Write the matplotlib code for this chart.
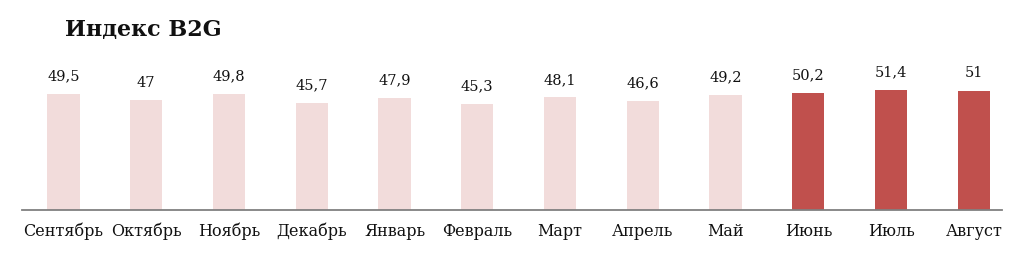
import matplotlib
matplotlib.use("Agg")
import matplotlib.pyplot as plt

# Данные
months = ["Сентябрь", "Октябрь", "Ноябрь", "Декабрь", "Январь", "Февраль",
          "Март", "Апрель", "Май", "Июнь", "Июль", "Август"]
values = [49.5, 47, 49.8, 45.7, 47.9, 45.3, 48.1, 46.6, 49.2, 50.2, 51.4, 51]
labels = ["49,5", "47", "49,8", "45,7", "47,9", "45,3", "48,1", "46,6",
          "49,2", "50,2", "51,4", "51"]
highlight = [False] * 9 + [True] * 3

plt.rcParams["font.family"] = ["DejaVu Serif"]

fig = plt.figure(figsize=(10.24, 2.56), dpi=100)
ax = fig.add_axes([22 / 1024, 46 / 256, 980 / 1024, 160 / 256])

cores = ["#C0504D" if h else "#F2DCDB" for h in highlight]
x = list(range(len(months)))
bars = ax.bar(x, values, width=0.39, color=cores, edgecolor="none")

for b, t in zip(bars, labels):
    ax.annotate(t, (b.get_x() + b.get_width() / 2, b.get_height()),
                xytext=(0, 7.5), textcoords="offset points",
                ha="center", va="bottom", fontsize=10.5, color="#111111")

ax.set_xlim(-0.5, 11.34)
ax.set_ylim(0, 68.4)
ax.set_xticks(x)
ax.set_xticklabels(months, fontsize=11.5, color="#111111")
ax.tick_params(axis="x", length=0, pad=9)
ax.set_yticks([])
for s in ["top", "left", "right"]:
    ax.spines[s].set_visible(False)
ax.spines["bottom"].set_color("#808080")
ax.spines["bottom"].set_linewidth(1.3)

fig.text(65 / 1024, 1 - 30 / 256, "Индекс B2G", fontsize=16, fontweight="bold",
         ha="left", va="center", color="#111111")

fig.savefig("out.png", dpi=100, facecolor="white")
